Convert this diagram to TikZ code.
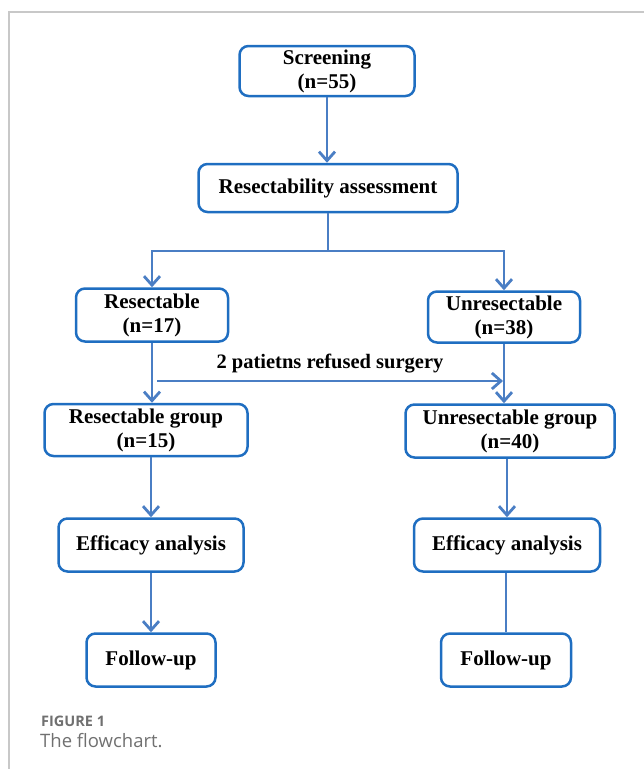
\documentclass[tikz,border=0pt]{standalone}
\usepackage{fontspec}
\setmainfont{Liberation Serif}
\newfontfamily\capfont{Open Sans}
\usetikzlibrary{arrows.meta}
\definecolor{boxblue}{HTML}{1F6EC1}
\definecolor{linkblue}{HTML}{4A7EC4}
\definecolor{framegray}{HTML}{C8C8C8}
\definecolor{capgray}{HTML}{707070}
\tikzset{
  stepbox/.style={draw=boxblue, line width=2.5pt, rounded corners=9pt, align=center,
    font=\fontsize{21}{24}\selectfont\bfseries, inner sep=0pt},
  link/.style={draw=linkblue, line width=2.8pt},
  linkarrow/.style={link, -{Straight Barb[length=9pt,width=16pt]}}
}
\begin{document}
\begin{tikzpicture}[x=1pt,y=-1pt]
    \useasboundingbox (0,0) rectangle (644,769);
    \draw[framegray, line width=1.2pt] (644,12) -- (9,12) -- (9,769);

    % boxes
    \node[stepbox, minimum width=175pt, minimum height=50pt] (screen) at (327,71) {Screening\\(n=55)};
    \node[stepbox, minimum width=259pt, minimum height=48pt] (assess) at (328,188) {Resectability assessment};
    \node[stepbox, minimum width=152pt, minimum height=53pt] (res) at (152,315) {Resectable\\(n=17)};
    \node[stepbox, minimum width=152pt, minimum height=51pt] (unres) at (504,317) {Unresectable\\(n=38)};
    \node[stepbox, minimum width=203pt, minimum height=52pt] (resgroup) at (146,430) {Resectable group\\(n=15)};
    \node[stepbox, minimum width=209pt, minimum height=53pt] (unresgroup) at (510,431) {Unresectable group\\(n=40)};
    \node[stepbox, minimum width=185pt, minimum height=53pt] (effleft) at (151,545) {Efficacy analysis};
    \node[stepbox, minimum width=186pt, minimum height=53pt] (effright) at (507,545) {Efficacy analysis};
    \node[stepbox, minimum width=129pt, minimum height=53pt] (followleft) at (151,660) {Follow-up};
    \node[stepbox, minimum width=130pt, minimum height=53pt] (followright) at (506,660) {Follow-up};

    % connectors
    \coordinate (split) at (328,251);
    \draw[linkarrow] (screen.south) -- (screen.south |- assess.north);
    \draw[link] (assess.south) -- (split);
    \draw[linkarrow] (split) -| (res.north);
    \draw[linkarrow] (split) -| (unres.north);
    \draw[linkarrow] (res.south) -- (res.south |- resgroup.north);
    \draw[linkarrow] (unres.south) -- (unres.south |- unresgroup.north);
    \coordinate (refleft) at (157,381);
    \coordinate (refright) at (503,381);
    \draw[linkarrow] (refleft) -- (refright)
        node[midway, above=3pt, font=\fontsize{20.5}{24}\selectfont\bfseries] (refused) {2 patietns refused surgery};
    \draw[linkarrow] (effleft.north |- resgroup.south) -- (effleft.north);
    \draw[linkarrow] (effright.north |- unresgroup.south) -- (effright.north);
    \draw[linkarrow] (effleft.south) -- (followleft.north);
    \draw[link] (effright.south -| followright.north) -- (followright.north);

    % caption
    \node[anchor=north west, inner sep=0pt, text=capgray, font=\capfont\bfseries\fontsize{14.5}{16}\selectfont] (figno) at (41,716) {FIGURE 1};
    \node[anchor=north west, inner sep=0pt, text=capgray, font=\capfont\fontsize{18.5}{21}\selectfont] (figcap) at (40,733) {The flowchart.};
\end{tikzpicture}
\end{document}
